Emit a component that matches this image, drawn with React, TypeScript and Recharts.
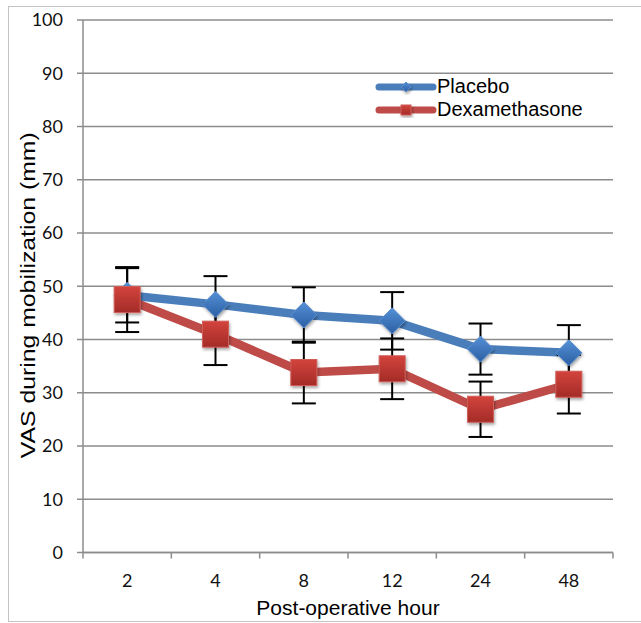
import { LineChart, Line, XAxis, YAxis, CartesianGrid, ErrorBar, Label } from 'recharts';

// ---------------------------------------------------------------------------
// Data
// ---------------------------------------------------------------------------

const HOURS = ['2', '4', '8', '12', '24', '48'];
const PLACEBO = [48.3, 46.6, 44.6, 43.5, 38.2, 37.5];
const PLACEBO_ERR = [5.1, 5.3, 5.2, 5.4, 4.8, 5.2];
const DEXA = [47.5, 41.0, 33.8, 34.5, 26.9, 31.6];
const DEXA_ERR = [6.1, 5.8, 5.8, 5.7, 5.2, 5.5];
const Y_TICKS = [0, 10, 20, 30, 40, 50, 60, 70, 80, 90, 100];

// ---------------------------------------------------------------------------
// Styling
// ---------------------------------------------------------------------------

const BLUE = '#4A7EBB';
const RED = '#BE4B48';
const AXIS = '#8C8C8C';
const TICK_FONT = 'Lato, "Open Sans", sans-serif';
const TITLE_FONT = '"Liberation Sans", Arial, sans-serif';

const W = 641;
const H = 623;

// x positions: category i sits in the middle of band [i, i+1]
const chartData = HOURS.map((h, i) => ({
  x: i + 0.5,
  hour: h,
  placebo: PLACEBO[i],
  placeboErr: PLACEBO_ERR[i],
  dexa: DEXA[i],
  dexaErr: DEXA_ERR[i],
}));

const xTicks: number[] = [];
for (let i = 0; i <= HOURS.length; i++) {
  xTicks.push(i);
  if (i < HOURS.length) xTicks.push(i + 0.5);
}

// ---------------------------------------------------------------------------
// Shapes
// ---------------------------------------------------------------------------

// note: recharts passes its own `r` to dots, so the size prop has another name
function Diamond({ cx, cy, half = 13 }: { cx?: number; cy?: number; half?: number }) {
  if (cx == null || cy == null) return null;
  const r = half;
  return (
    <polygon
      points={`${cx},${cy - r} ${cx + r},${cy} ${cx},${cy + r} ${cx - r},${cy}`}
      fill="url(#blueGrad)"
      stroke="#5B8FD0"
      strokeWidth={1}
      filter="url(#markShadow)"
    />
  );
}

function Square({ cx, cy, half = 13 }: { cx?: number; cy?: number; half?: number }) {
  if (cx == null || cy == null) return null;
  const s = half;
  return (
    <rect
      x={cx - s}
      y={cy - s}
      width={s * 2}
      height={s * 2}
      fill="url(#redGrad)"
      stroke="#CF5E58"
      strokeWidth={1}
      filter="url(#markShadow)"
    />
  );
}

function HourTick(props: any) {
  const { x, y, payload } = props;
  const v = payload.value as number;
  if (Number.isInteger(v)) {
    return <line x1={x} x2={x} y1={y - 6} y2={y} stroke={AXIS} strokeWidth={1.5} />;
  }
  return (
    <text x={x} y={y + 28} textAnchor="middle" fontFamily={TICK_FONT} fontSize={18} fill="#111">
      {HOURS[Math.floor(v)]}
    </text>
  );
}

function LegendRow({ label, color, kind }: { label: string; color: string; kind: 'diamond' | 'square' }) {
  return (
    <div style={{ display: 'flex', alignItems: 'center', height: 23 }}>
      <svg width={62} height={16} style={{ display: 'block' }}>
        <line x1={4} x2={58} y1={8} y2={8} stroke={color} strokeWidth={7} strokeLinecap="round" />
        {kind === 'diamond' ? <Diamond cx={31} cy={8} half={5} /> : <Square cx={31} cy={8} half={5} />}
      </svg>
      <span style={{ fontFamily: TITLE_FONT, fontSize: 20, color: '#000' }}>{label}</span>
    </div>
  );
}

// ---------------------------------------------------------------------------
// Component
// ---------------------------------------------------------------------------

export default function App() {
  return (
    <div style={{ position: 'absolute', left: 0, top: 0, width: W, height: H, background: '#fff', overflow: 'hidden' }}>
      {/* shared gradients / shadow */}
      <svg width={0} height={0} style={{ position: 'absolute' }}>
        <defs>
          <linearGradient id="blueGrad" x1="0" y1="0" x2="0" y2="1">
            <stop offset="0%" stopColor="#5590D6" />
            <stop offset="100%" stopColor="#2B5FA3" />
          </linearGradient>
          <linearGradient id="redGrad" x1="0" y1="0" x2="0" y2="1">
            <stop offset="0%" stopColor="#D3443C" />
            <stop offset="100%" stopColor="#A32B28" />
          </linearGradient>
          <filter id="markShadow" x="-40%" y="-40%" width="180%" height="180%">
            <feDropShadow dx={1} dy={2} stdDeviation={1.5} floodColor="#000" floodOpacity={0.35} />
          </filter>
        </defs>
      </svg>

      {/* outer frame */}
      <div
        style={{
          position: 'absolute',
          left: 8,
          top: 6,
          width: W - 8,
          height: 616,
          boxSizing: 'border-box',
          borderTop: '1px solid #C4C4C4',
          borderLeft: '1px solid #C4C4C4',
          borderBottom: '1px solid #C4C4C4',
        }}
      />

      <div style={{ position: 'absolute', left: 0, top: 0 }}>
        <LineChart width={W} height={H} data={chartData} margin={{ top: 20, right: 28, bottom: 0, left: 0 }}>
          <CartesianGrid horizontal vertical={false} stroke={AXIS} strokeWidth={1.5} />
          <XAxis
            dataKey="x"
            type="number"
            domain={[0, HOURS.length]}
            ticks={xTicks}
            interval={0}
            height={70.5}
            axisLine={{ stroke: AXIS, strokeWidth: 1.5 }}
            tickLine={false}
            tickSize={6}
            tickMargin={0}
            tick={<HourTick />}
          >
            <Label
              content={(p: any) => {
                const vb = p.viewBox || {};
                return (
                  <text
                    x={vb.x + vb.width / 2}
                    y={vb.y + 62}
                    textAnchor="middle"
                    fontFamily={TITLE_FONT}
                    fontSize={21}
                    fill="#000"
                  >
                    Post-operative hour
                  </text>
                );
              }}
            />
          </XAxis>
          <YAxis
            type="number"
            domain={[0, 100]}
            ticks={Y_TICKS}
            interval={0}
            width={83}
            axisLine={{ stroke: AXIS, strokeWidth: 1.5 }}
            tickLine={{ stroke: AXIS, strokeWidth: 1.5 }}
            tickSize={6}
            tickMargin={14}
            tick={{ fill: '#111', fontSize: 18, fontFamily: TICK_FONT }}
          >
            <Label
              content={(p: any) => {
                const vb = p.viewBox || {};
                const cy = vb.y + vb.height / 2 + 9;
                return (
                  <text
                    transform={`translate(28, ${cy}) rotate(-90)`}
                    textAnchor="middle"
                    dominantBaseline="central"
                    fontFamily={TITLE_FONT}
                    fontSize={20}
                    textLength={326}
                    lengthAdjust="spacingAndGlyphs"
                    fill="#000"
                  >
                    VAS during mobilization (mm)
                  </text>
                );
              }}
            />
          </YAxis>

          <Line
            dataKey="placebo"
            name="Placebo"
            stroke={BLUE}
            strokeWidth={8.5}
            strokeLinejoin="round"
            dot={<Diamond />}
            activeDot={false}
            isAnimationActive={false}
          >
            <ErrorBar dataKey="placeboErr" width={12} stroke="#000" strokeWidth={2} direction="y" />
          </Line>
          <Line
            dataKey="dexa"
            name="Dexamethasone"
            stroke={RED}
            strokeWidth={8.5}
            strokeLinejoin="round"
            dot={<Square />}
            activeDot={false}
            isAnimationActive={false}
          >
            <ErrorBar dataKey="dexaErr" width={12} stroke="#000" strokeWidth={2} direction="y" />
          </Line>
        </LineChart>
      </div>

      {/* legend */}
      <div style={{ position: 'absolute', left: 375, top: 75 }}>
        <LegendRow label="Placebo" color={BLUE} kind="diamond" />
        <LegendRow label="Dexamethasone" color={RED} kind="square" />
      </div>
    </div>
  );
}
